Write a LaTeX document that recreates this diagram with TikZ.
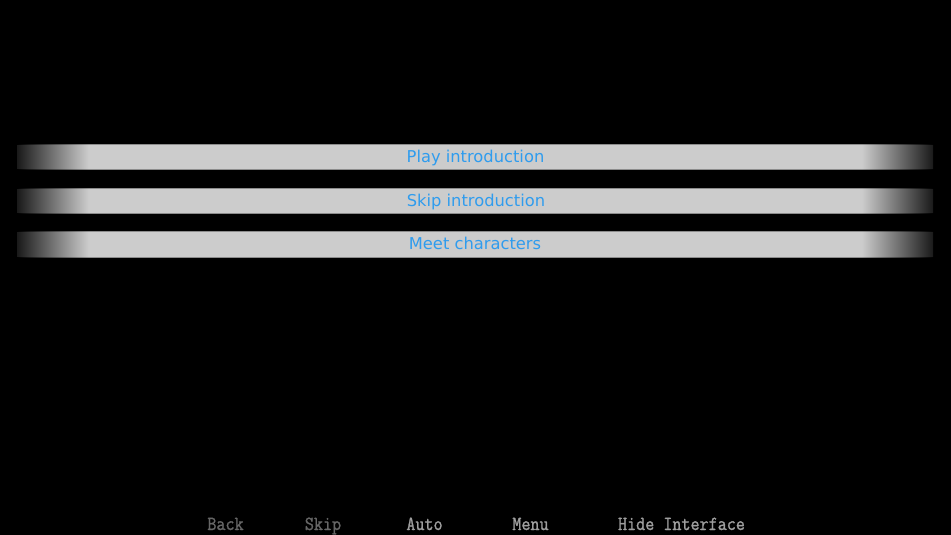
\documentclass[tikz,border=0pt]{standalone}
\usepackage{fontspec}
\setmainfont{DejaVu Sans}
\newfontfamily\btnfont[FakeBold=1.2,FakeStretch=0.88]{Latin Modern Mono}
\definecolor{barfill}{HTML}{CCCCCC}
\definecolor{baredge}{HTML}{8C8C8C}
\definecolor{choiceblue}{HTML}{2F9CEE}
\definecolor{qdim}{HTML}{666666}
\definecolor{qlit}{HTML}{9E9E9E}
\pgfdeclarehorizontalshading{barshade}{100bp}{color(0bp)=(black!90); color(25bp)=(black!90); color(28.9bp)=(barfill); color(71.1bp)=(barfill); color(75bp)=(black!90); color(100bp)=(black!90)}
\pgfdeclarehorizontalshading{edgeshade}{100bp}{color(0bp)=(black); color(25bp)=(black); color(28.9bp)=(baredge); color(71.1bp)=(baredge); color(75bp)=(black); color(100bp)=(black)}
\tikzset{
  choicetext/.style={text=choiceblue, font=\fontsize{16.3}{19}\selectfont, inner sep=0pt, anchor=base},
  qbtn/.style={font=\btnfont\fontsize{20}{22}\selectfont, inner sep=0pt, anchor=base},
}
\newcommand{\choicebar}[3]{%
  % #1 top y, #2 bottom y, #3 name
  \shade[shading=edgeshade] (17,#1) rectangle (933,#2);
  \shade[shading=barshade] (17,#1+1) rectangle (933,#2-1);
  \coordinate (#3) at (475,{(#1+#2)/2});
}
\begin{document}
\begin{tikzpicture}[x=1pt,y=-1pt]
  \fill[black] (0,0) rectangle (951,535);
  \useasboundingbox (0,0) rectangle (951,535);
  \choicebar{144}{169}{bar1}
  \choicebar{188}{213}{bar2}
  \choicebar{231}{257}{bar3}
  \node[choicetext] (t1) at (475.5,162.8) {Play introduction};
  \node[choicetext] (t2) at (476,206.8) {Skip introduction};
  \node[choicetext] (t3) at (475,249.8) {Meet characters};
  \node[qbtn, text=qdim] (back) at (225.5,530) {Back};
  \node[qbtn, text=qdim] (skip) at (323,530) {Skip};
  \node[qbtn, text=qlit] (auto) at (424.5,530) {Auto};
  \node[qbtn, text=qlit] (menu) at (530.5,530) {Menu};
  \node[qbtn, text=qlit] (hide) at (681.5,530) {Hide Interface};
\end{tikzpicture}
\end{document}
